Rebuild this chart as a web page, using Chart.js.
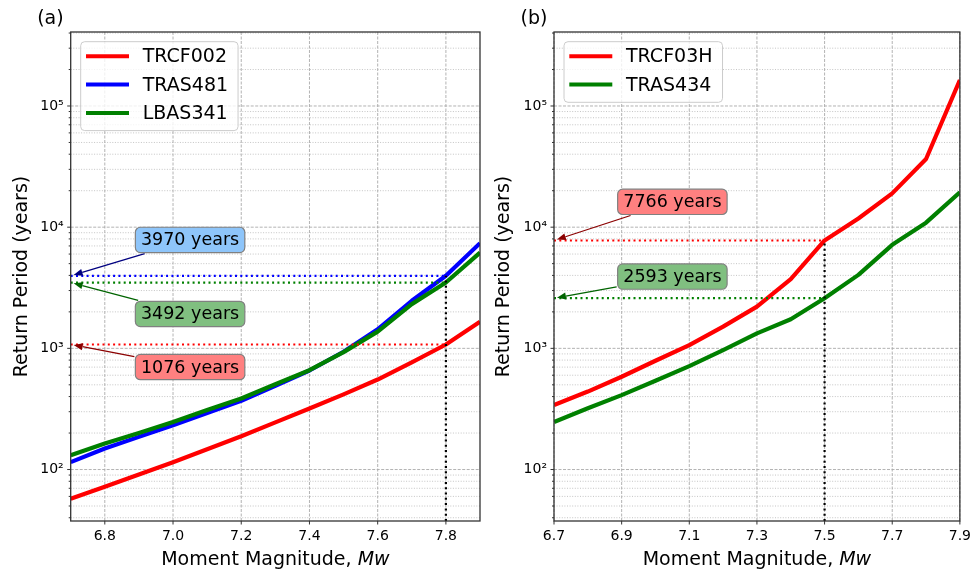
<!DOCTYPE html>
<html>
<head>
<meta charset="utf-8">
<script src="https://cdn.jsdelivr.net/npm/chart.js@4/dist/chart.umd.min.js"></script>
<style>
html, body { margin: 0; padding: 0; background: #fff; }
.panel { position: absolute; left: 0; top: 0; width: 974px; height: 572px; }
</style>
</head>
<body>
<div class="panel"><canvas id="chartA" width="974" height="572"></canvas></div>
<div class="panel"><canvas id="chartB" width="974" height="572"></canvas></div>
<script>
// magnitudes shared by every curve
const magnitudes = [6.7, 6.8, 6.9, 7.0, 7.1, 7.2, 7.3, 7.4, 7.5, 7.6, 7.7, 7.8, 7.9];

// panel (a) return periods, years
const trcf002 = [57.5, 72, 91, 115, 147, 188, 245, 319, 417, 553, 765, 1076, 1660];
const tras481 = [115, 149, 186, 232, 293, 369, 490, 656, 937, 1436, 2470, 3970, 7380];
const lbas341 = [131, 164, 200, 247, 310, 386, 505, 660, 930, 1375, 2318, 3492, 6170];

// panel (b) return periods, years
const trcf03h = [340, 440, 583, 790, 1065, 1510, 2210, 3720, 7766, 11800, 19000, 36500, 164000];
const tras434 = [247, 320, 411, 540, 713, 966, 1330, 1740, 2593, 4040, 7150, 10900, 19400];

// axes
const ticksA = [6.8, 7.0, 7.2, 7.4, 7.6, 7.8];
const ticksB = [6.7, 6.9, 7.1, 7.3, 7.5, 7.7, 7.9];
const xRange = [6.7, 7.9];
const yRange = [37.6, 408000];

// read-off values at the design magnitude
const designMwA = 7.8;
const periodsA = [3970, 3492, 1076];
const designMwB = 7.5;
const periodsB = [7766, 2593];

const FONT = '"DejaVu Sans", sans-serif';
Chart.defaults.font.family = FONT;

const SUP = { '0': '\u2070', '1': '\u00b9', '2': '\u00b2', '3': '\u00b3', '4': '\u2074', '5': '\u2075', '6': '\u2076' };

function isPow10(v) {
    const l = Math.log10(v);
    return Math.abs(l - Math.round(l)) < 1e-9;
}

function logTicks(scale) {
    const out = [];
    for (let p = 1; p <= 5; p++) {
        for (let k = 1; k <= 9; k++) {
            const v = k * Math.pow(10, p);
            if (v >= yRange[0] && v <= yRange[1]) out.push({ value: v });
        }
    }
    scale.ticks = out;
}

function series(label, values, color, order) {
    return {
        label,
        data: magnitudes.map((m, i) => ({ x: m, y: values[i] })),
        borderColor: color,
        borderWidth: 4.2,
        borderJoinStyle: 'round',
        pointRadius: 0,
        order,
        isSeries: true
    };
}

function dotted(points, color) {
    return {
        data: points,
        borderColor: color,
        borderWidth: 2.2,
        borderDash: [2, 3.3],
        pointRadius: 0,
        order: -1
    };
}

function seg(ctx, x1, y1, x2, y2) {
    ctx.beginPath();
    ctx.moveTo(x1, y1);
    ctx.lineTo(x2, y2);
    ctx.stroke();
}

function roundBox(ctx, x, y, w, h, r) {
    ctx.beginPath();
    ctx.moveTo(x + r, y);
    ctx.arcTo(x + w, y, x + w, y + h, r);
    ctx.arcTo(x + w, y + h, x, y + h, r);
    ctx.arcTo(x, y + h, x, y, r);
    ctx.arcTo(x, y, x + w, y, r);
    ctx.closePath();
}

const decor = {
    id: 'decor',

    beforeDatasetsDraw(chart, args, opts) {
        const { ctx, chartArea: a, scales: { x, y } } = chart;
        ctx.save();
        ctx.lineWidth = 0.9;
        y.ticks.forEach(t => {
            const major = isPow10(t.value);
            const py = y.getPixelForValue(t.value);
            ctx.strokeStyle = major ? '#aaaaaa' : '#bebebe';
            ctx.setLineDash(major ? [3, 1.5] : [1, 1.6]);
            seg(ctx, a.left, py, a.right, py);
        });
        ctx.strokeStyle = '#aaaaaa';
        ctx.setLineDash([3, 1.5]);
        x.ticks.forEach(t => {
            const px = x.getPixelForValue(t.value);
            seg(ctx, px, a.top, px, a.bottom);
        });
        ctx.restore();
    },

    afterDatasetsDraw(chart, args, opts) {
        const { ctx, chartArea: a, scales: { x, y } } = chart;
        ctx.save();

        // frame and tick marks
        ctx.strokeStyle = '#333';
        ctx.lineWidth = 1.3;
        ctx.strokeRect(a.left, a.top, a.width, a.height);
        ctx.lineWidth = 1;
        y.ticks.forEach(t => {
            const py = y.getPixelForValue(t.value);
            const len = isPow10(t.value) ? 3.5 : 2;
            seg(ctx, a.left - len, py, a.left, py);
        });
        x.ticks.forEach(t => {
            const px = x.getPixelForValue(t.value);
            seg(ctx, px, a.bottom, px, a.bottom + 3.5);
        });

        // legend
        const items = chart.data.datasets.filter(d => d.isSeries);
        ctx.font = '19px ' + FONT;
        const maxW = Math.max(...items.map(d => ctx.measureText(d.label).width));
        const lx = a.left + 10, ly = a.top + 9.7;
        const lw = 62 + maxW + 10, lh = 28.3 * items.length + 4;
        roundBox(ctx, lx, ly, lw, lh, 4);
        ctx.fillStyle = 'rgba(255,255,255,0.8)';
        ctx.fill();
        ctx.strokeStyle = '#cccccc';
        ctx.stroke();
        ctx.textBaseline = 'middle';
        ctx.textAlign = 'left';
        items.forEach((d, i) => {
            const ry = ly + 14.6 + i * 28.3;
            ctx.strokeStyle = d.borderColor;
            ctx.lineWidth = 4;
            seg(ctx, lx + 5.3, ry, lx + 48.3, ry);
            ctx.fillStyle = '#000';
            ctx.fillText(d.label, lx + 62, ry + 1);
        });

        // call-out boxes with arrows
        opts.notes.forEach(n => {
            const cx = x.getPixelForValue(n.at[0]);
            const cy = y.getPixelForValue(n.at[1]);
            const tx = x.getPixelForValue(xRange[0]);
            const ty = y.getPixelForValue(n.value);
            const text = n.value + ' years';
            ctx.font = '17.5px ' + FONT;
            const w = ctx.measureText(text).width + 11.2, h = 25.3;

            const dx = tx - cx, dy = ty - cy;
            const t0 = Math.min(Math.abs((w / 2 + 1) / dx), Math.abs((h / 2 + 1) / dy));
            const sx = cx + dx * t0, sy = cy + dy * t0;
            const len = Math.hypot(dx, dy);
            const ux = dx / len, uy = dy / len;
            const ex = tx - ux * 3, ey = ty - uy * 3;
            const head = 9, hw = 3.5;
            ctx.strokeStyle = n.arrow;
            ctx.fillStyle = n.arrow;
            ctx.lineWidth = 1.3;
            seg(ctx, sx, sy, ex - ux * head, ey - uy * head);
            ctx.beginPath();
            ctx.moveTo(ex, ey);
            ctx.lineTo(ex - ux * head - uy * hw, ey - uy * head + ux * hw);
            ctx.lineTo(ex - ux * head + uy * hw, ey - uy * head - ux * hw);
            ctx.closePath();
            ctx.fill();

            roundBox(ctx, cx - w / 2, cy - h / 2, w, h, 5);
            ctx.fillStyle = n.fill;
            ctx.fill();
            ctx.strokeStyle = '#808080';
            ctx.lineWidth = 1.2;
            ctx.stroke();
            ctx.fillStyle = '#000';
            ctx.textAlign = 'center';
            ctx.textBaseline = 'middle';
            ctx.fillText(text, cx, cy + 1);
        });

        // x title with italic Mw
        const t1 = 'Moment Magnitude, ';
        ctx.font = '19px ' + FONT;
        const w1 = ctx.measureText(t1).width;
        ctx.font = 'italic 19px ' + FONT;
        const w2 = ctx.measureText('Mw').width;
        const start = (a.left + a.right) / 2 - (w1 + w2) / 2;
        ctx.fillStyle = '#000';
        ctx.textAlign = 'left';
        ctx.textBaseline = 'alphabetic';
        ctx.font = '19px ' + FONT;
        ctx.fillText(t1, start, 565);
        ctx.font = 'italic 19px ' + FONT;
        ctx.fillText('Mw', start + w1, 565);

        // panel letter
        ctx.font = '19px ' + FONT;
        ctx.fillText(opts.tag, a.left - 33.5, 23.5);

        ctx.restore();
    }
};

function makeChart(id, datasets, cfg) {
    return new Chart(document.getElementById(id), {
        type: 'line',
        data: { datasets },
        options: {
            responsive: false,
            animation: false,
            events: [],
            layout: { padding: { left: cfg.padLeft, right: cfg.padRight, top: 32, bottom: 0 } },
            plugins: {
                legend: { display: false },
                tooltip: { enabled: false },
                decor: { notes: cfg.notes, tag: cfg.tag }
            },
            scales: {
                x: {
                    type: 'linear',
                    min: xRange[0],
                    max: xRange[1],
                    bounds: 'data',
                    afterBuildTicks: s => { s.ticks = cfg.xTicks.map(v => ({ value: v })); },
                    afterFit: s => { s.height = 51; },
                    grid: { display: true, drawOnChartArea: false, tickLength: 4, tickColor: 'rgba(0,0,0,0)' },
                    border: { display: false },
                    ticks: {
                        autoSkip: false,
                        maxRotation: 0,
                        padding: 3,
                        color: '#000',
                        font: { size: 14 },
                        callback: v => Number(v).toFixed(1)
                    }
                },
                y: {
                    type: 'logarithmic',
                    min: yRange[0],
                    max: yRange[1],
                    bounds: 'data',
                    afterBuildTicks: logTicks,
                    afterFit: s => { s.width = cfg.yWidth; },
                    grid: { display: true, drawOnChartArea: false, tickLength: 4, tickColor: 'rgba(0,0,0,0)' },
                    border: { display: false },
                    ticks: {
                        autoSkip: false,
                        padding: 3,
                        color: '#000',
                        font: { size: 14 },
                        callback: v => isPow10(v)
                            ? '10' + String(Math.round(Math.log10(v))).split('').map(c => SUP[c]).join('')
                            : ''
                    },
                    title: {
                        display: true,
                        text: 'Return Period (years)',
                        color: '#000',
                        font: { size: 19 },
                        padding: { top: cfg.titlePad, bottom: 0 }
                    }
                }
            }
        },
        plugins: [decor]
    });
}

makeChart('chartA', [
    series('TRCF002', trcf002, '#ff0000', 3),
    series('TRAS481', tras481, '#0000ff', 2),
    series('LBAS341', lbas341, '#008000', 1),
    dotted([{ x: xRange[0], y: periodsA[0] }, { x: designMwA, y: periodsA[0] }], '#0000ff'),
    dotted([{ x: xRange[0], y: periodsA[1] }, { x: designMwA, y: periodsA[1] }], '#008000'),
    dotted([{ x: xRange[0], y: periodsA[2] }, { x: designMwA, y: periodsA[2] }], '#ff0000'),
    dotted([{ x: designMwA, y: yRange[0] }, { x: designMwA, y: periodsA[0] }], '#000000')
], {
    tag: '(a)',
    padLeft: 0,
    padRight: 494,
    yWidth: 70.7,
    titlePad: 10.6,
    xTicks: ticksA,
    notes: [
        { value: periodsA[0], at: [7.05, 7850], fill: '#8ec5fa', arrow: '#000080' },
        { value: periodsA[1], at: [7.05, 1923], fill: '#80bf80', arrow: '#006400' },
        { value: periodsA[2], at: [7.05, 701], fill: '#ff8080', arrow: '#8b0000' }
    ]
});

makeChart('chartB', [
    series('TRCF03H', trcf03h, '#ff0000', 2),
    series('TRAS434', tras434, '#008000', 1),
    dotted([{ x: xRange[0], y: periodsB[0] }, { x: designMwB, y: periodsB[0] }], '#ff0000'),
    dotted([{ x: xRange[0], y: periodsB[1] }, { x: designMwB, y: periodsB[1] }], '#008000'),
    dotted([{ x: designMwB, y: yRange[0] }, { x: designMwB, y: periodsB[0] }], '#000000')
], {
    tag: '(b)',
    padLeft: 490,
    padRight: 10.7,
    yWidth: 64,
    titlePad: 2.6,
    xTicks: ticksB,
    notes: [
        { value: periodsB[0], at: [7.05, 16180], fill: '#ff8080', arrow: '#8b0000' },
        { value: periodsB[1], at: [7.05, 3908], fill: '#80bf80', arrow: '#006400' }
    ]
});
</script>
</body>
</html>
